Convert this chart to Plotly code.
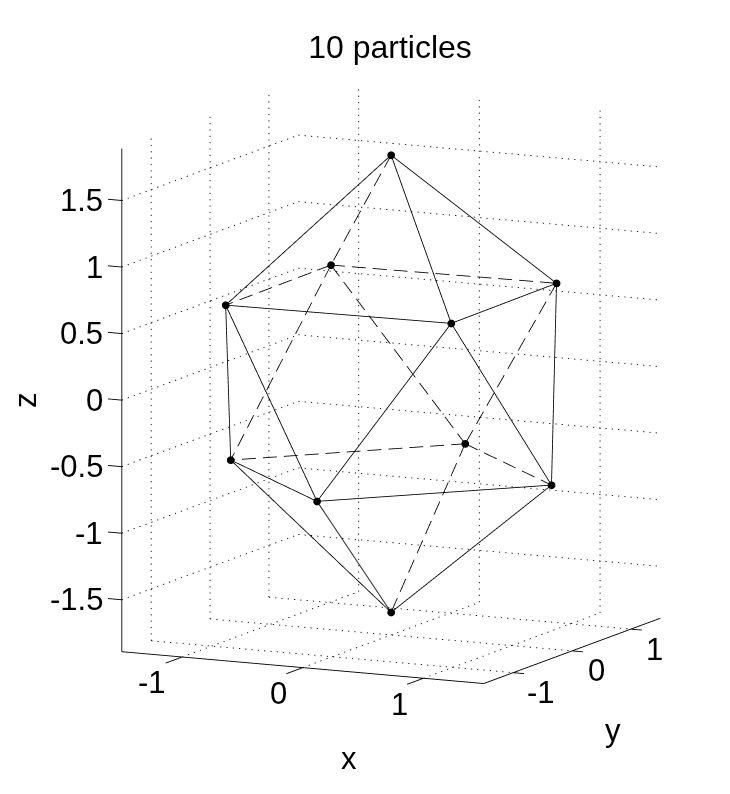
import math
import plotly.graph_objects as go

### 데이터
# 입자 좌표 (Thomson problem, N = 10)
px = [0, 0, -0.91, -0.93, 0.91, 0.93, -1.30, 0.025, 1.30, -0.025]
py = [0, 0, -0.945, 0.885, 0.945, -0.885, -0.06, -1.31, 0.06, 1.31]
pz = [1.715, -1.72, 0.67, 0.67, 0.67, 0.67, -0.67, -0.67, -0.67, -0.67]

# 앞쪽 모서리 (실선) / 뒤쪽 모서리 (파선)
solid_edges = [(0, 2), (0, 5), (0, 4), (2, 5), (5, 4), (2, 6), (2, 7), (5, 7), (5, 8), (4, 8),
               (6, 7), (7, 8), (6, 1), (7, 1), (8, 1)]
dashed_edges = [(0, 3), (3, 2), (3, 4), (3, 6), (3, 9), (4, 9), (9, 6), (9, 8), (9, 1)]

x_ticks = [-1, 0, 1]
y_ticks = [-1, 0, 1]
z_ticks = [-1.5, -1, -0.5, 0, 0.5, 1, 1.5]
z_labels = ['-1.5', '-1', '-0.5', '0', '0.5', '1', '1.5']

x_lim = [-1.5, 1.5]
y_lim = [-1.5, 1.5]
z_lim = [-1.89, 1.89]
pad = 0.4   # 눈금이 잘리지 않도록 축 범위를 넓힘

# 시점 (MATLAB view)
az = math.radians(26.0)
el = math.radians(10.4)
eye_r = 2.0
px_per_unit = 134.4   # 데이터 1 단위당 픽셀
zoom = 1.285          # orthographic 에서는 aspectratio 가 배율
z_stretch = 1.008

right = (math.cos(az), math.sin(az), 0)
up = (-math.sin(el) * math.sin(az), math.sin(el) * math.cos(az), math.cos(el))
view = (math.sin(az) * math.cos(el), -math.cos(az) * math.cos(el), math.sin(el))


def screen_len(a, b):
    d = [b[i] - a[i] for i in range(3)]
    u = sum(d[i] * right[i] for i in range(3))
    v = sum(d[i] * up[i] for i in range(3))
    return px_per_unit * math.hypot(u, v)


def chop(pairs, on, period):
    # 선분을 화면 픽셀 기준 파선 조각으로 나눔
    out = []
    for a, b in pairs:
        n = screen_len(a, b)
        s = 0
        while s < n:
            e = min(s + on, n)
            out.append((tuple(a[i] + (b[i] - a[i]) * s / n for i in range(3)),
                        tuple(a[i] + (b[i] - a[i]) * e / n for i in range(3))))
            s += period
    return out


def line_trace(pairs, width=1.5):
    xs, ys, zs = [], [], []
    for a, b in pairs:
        xs += [a[0], b[0], None]
        ys += [a[1], b[1], None]
        zs += [a[2], b[2], None]
    return go.Scatter3d(x=xs, y=ys, z=zs, mode='lines', hoverinfo='skip',
                        line=dict(color='black', width=width))


def edge_pairs(edges):
    return [((px[i], py[i], pz[i]), (px[j], py[j], pz[j])) for i, j in edges]


### 격자선 (바닥 + 뒤쪽 벽 2개)
x0, x1 = x_lim
y0, y1 = y_lim
z0, z1 = z_lim
grid = []
for t in x_ticks:
    grid.append(((t, y0, z0), (t, y1, z0)))
    grid.append(((t, y1, z0), (t, y1, z1)))
for t in y_ticks:
    grid.append(((x0, t, z0), (x1, t, z0)))
    grid.append(((x0, t, z0), (x0, t, z1)))
for t in z_ticks:
    grid.append(((x0, y0, t), (x0, y1, t)))
    grid.append(((x0, y1, t), (x1, y1, t)))

### 축선 + 눈금
frame = [((x0, y0, z0), (x1, y0, z0)),
         ((x1, y0, z0), (x1, y1, z0)),
         ((x0, y0, z0), (x0, y0, z1))]
for t in x_ticks:
    frame.append(((t, y0, z0), (t, y0 - 0.28, z0)))
for t in y_ticks:
    frame.append(((x1, t, z0), (x1 + 0.09, t, z0)))
for t in z_ticks:
    frame.append(((x0, y0, t), (x0 - 0.115, y0, t)))

traces = [line_trace(chop(grid, 1.2, 6.3), 1.8),
          line_trace(frame, 1.8),
          line_trace(edge_pairs(solid_edges), 1.7),
          line_trace(chop(edge_pairs(dashed_edges), 14, 21), 1.7),
          go.Scatter3d(x=px, y=py, z=pz, mode='markers', hoverinfo='skip',
                       marker=dict(size=4.5, color='black'))]

### 눈금 글자
font = dict(family='Liberation Sans', size=31, color='black')
notes = []
for t in x_ticks:
    notes.append(dict(x=t, y=y0, z=z0, text=str(t), showarrow=False, font=font,
                      xshift=-24 - (6 if t < 0 else 0), yshift=-26))
for t in y_ticks:
    notes.append(dict(x=x1, y=t, z=z0, text=str(t), showarrow=False, font=font,
                      xshift=24 + (4 if t < 0 else 0), yshift=-20))
for t, s in zip(z_ticks, z_labels):
    notes.append(dict(x=x0, y=y0, z=t, text=s, showarrow=False, font=font,
                      xanchor='right', xshift=-17))
notes.append(dict(x=0, y=y0, z=z0, text='x', showarrow=False, font=font, xshift=46, yshift=-91))
notes.append(dict(x=x1, y=0, z=z0, text='y', showarrow=False, font=font, xshift=41, yshift=-80))
notes.append(dict(x=x0, y=y0, z=0, text='z', showarrow=False, font=font, textangle=-90, xshift=-97))

span = x1 - x0 + 2 * pad
axis = dict(visible=False, showgrid=False, zeroline=False, showbackground=False)

# 화면 이동 (픽셀 -> 정규화 좌표)
norm_px = 395
shift_right, shift_up = 18 / norm_px, 21.5 / norm_px
center = [-shift_right * right[i] - shift_up * up[i] for i in range(3)]
eye = [center[i] + eye_r * view[i] for i in range(3)]

fig = go.Figure(traces)
fig.update_layout(
    width=730, height=794, autosize=False,
    margin=dict(l=0, r=0, t=0, b=0),
    paper_bgcolor='white', showlegend=False,
    title=dict(text='10 particles', x=382 / 730, xanchor='center', y=1 - 39 / 794, yanchor='middle',
               font=dict(family='Liberation Sans', size=32, color='black')),
    scene=dict(
        xaxis=dict(axis, range=[x0 - pad, x1 + pad]),
        yaxis=dict(axis, range=[y0 - pad, y1 + pad]),
        zaxis=dict(axis, range=[z0 - pad, z1 + pad]),
        aspectmode='manual',
        aspectratio=dict(x=zoom, y=zoom, z=zoom * z_stretch * (z1 - z0 + 2 * pad) / span),
        domain=dict(x=[0, 1], y=[0, 1]),
        annotations=notes,
        camera=dict(projection=dict(type='orthographic'),
                    up=dict(x=0, y=0, z=1),
                    center=dict(x=center[0], y=center[1], z=center[2]),
                    eye=dict(x=eye[0], y=eye[1], z=eye[2])),
    ),
)
fig.write_html("out.html")
